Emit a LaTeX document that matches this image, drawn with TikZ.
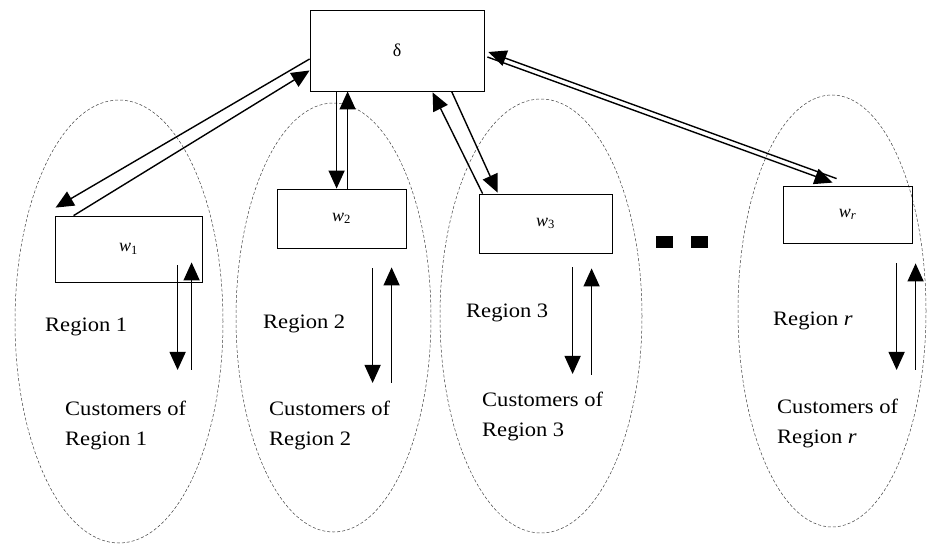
\documentclass[tikz,border=0pt]{standalone}
\usepackage{fontspec}
\setmainfont{Liberation Serif}
\newfontfamily\labfont[FakeStretch=1.1]{Liberation Serif}
\usetikzlibrary{arrows.meta,calc}
\begin{document}
\begin{tikzpicture}[x=1pt,y=-1pt,
  ell/.style={draw=black!75,line width=0.5pt,dash pattern=on 3pt off 2pt},
  box/.style={draw,line width=0.8pt,inner sep=0pt,font=\fontsize{18}{20}\selectfont},
  arr/.style={line width=1.4pt,-{Triangle[length=18pt,width=16pt]}},
  lab/.style={anchor=base west,inner sep=0pt,font=\labfont\fontsize{20.5}{30}\selectfont},
  cust/.style={anchor=north west,inner sep=0pt,align=left,font=\labfont\fontsize{20.5}{30}\selectfont},
  dot/.style={fill=black,draw=none}]
\useasboundingbox (0,0) rectangle (930,545);
% regions
\draw[ell] (119,321.5) ellipse [x radius=104pt, y radius=221.5pt];
\draw[ell] (333.5,317.5) ellipse [x radius=97.5pt, y radius=214.5pt];
\draw[ell] (541,316) ellipse [x radius=101pt, y radius=217pt];
\draw[ell] (832,311) ellipse [x radius=94pt, y radius=216pt];
% boxes
\node[box,minimum width=174pt,minimum height=81pt] (d) at (397,50.5) {δ};
\node[box,minimum width=147pt,minimum height=66pt] (w1) at (128.5,249) {\textit{w}\textsubscript{1}};
\node[box,minimum width=129pt,minimum height=59pt] (w2) at (341.5,218.5) {\textit{w}\textsubscript{2}};
\node[box,minimum width=133pt,minimum height=59pt] (w3) at (545.5,223.5) {\textit{w}\textsubscript{3}};
\node[box,minimum width=129pt,minimum height=57pt] (wr) at (847.5,214.5) {\textit{w}\textsubscript{\textit{r}}};
% delta <-> w1
\draw[arr] ($(d.west)+(0,8.5)$) -- ($(w1.north west)+(1,-8)$);
\draw[arr] ($(w1.north west)+(19,0)$) -- ($(d.west)+(0,20)$);
% delta <-> w2
\draw[arr] ($(d.south west)+(27,0)$) -- ($(w2.north west)+(60,0)$);
\draw[arr] ($(w2.north west)+(71,0)$) -- ($(d.south west)+(38,0)$);
% delta <-> w3
\draw[arr] ($(w3.north west)+(4,0)$) -- ($(d.south west)+(123,1)$);
\draw[arr] ($(d.south west)+(142,0)$) -- ($(w3.north west)+(19,-1)$);
% delta <-> wr
\draw[arr] ($(wr.north west)+(54,-7)$) -- ($(d.east)+(4,1.5)$);
\draw[arr] ($(d.east)+(3,6.5)$) -- ($(wr.north west)+(50,-3)$);
% customers coordinates
\coordinate (c1) at (185,370);
\coordinate (c2) at (382,383);
\coordinate (c3) at (582,374);
\coordinate (cr) at (906,370);
% warehouse <-> customers
\draw[arr] ($(w1.south west)+(123,-17)$) -- (c1 -| {$(w1.south west)+(123,0)$});
\draw[arr] (c1 -| {$(w1.south west)+(137,0)$}) -- ($(w1.south west)+(137,-20)$);
\draw[arr] ($(w2.south west)+(96,20)$) -- (c2 -| {$(w2.south west)+(96,0)$});
\draw[arr] (c2 -| {$(w2.south west)+(115,0)$}) -- ($(w2.south west)+(115,19)$);
\draw[arr] ($(w3.south west)+(94,14)$) -- (c3 -| {$(w3.south west)+(94,0)$});
\draw[arr] ($(c3 -| {$(w3.south west)+(113,0)$})+(0,1)$) -- ($(w3.south west)+(113,15)$);
\draw[arr] ($(wr.south west)+(114,20)$) -- (cr -| {$(wr.south west)+(114,0)$});
\draw[arr] (cr -| {$(wr.south west)+(133,0)$}) -- ($(wr.south west)+(133,20)$);
% region labels
\node[lab] (r1) at (45,332) {Region 1};
\node[lab] (r2) at (263,329) {Region 2};
\node[lab] (r3) at (466,318) {Region 3};
\node[lab] (rr) at (773,326) {Region \textit{r}};
\node[cust] (k1) at (65,401) {Customers of\\Region 1};
\node[cust] (k2) at (269,401) {Customers of\\Region 2};
\node[cust] (k3) at (482,392) {Customers of\\Region 3};
\node[cust] (kr) at (777,399) {Customers of\\Region \textit{r}};
% ellipsis dots
\fill[dot] (656,236) rectangle (673,248);
\fill[dot] (691,236) rectangle (708,248);
\end{tikzpicture}
\end{document}
